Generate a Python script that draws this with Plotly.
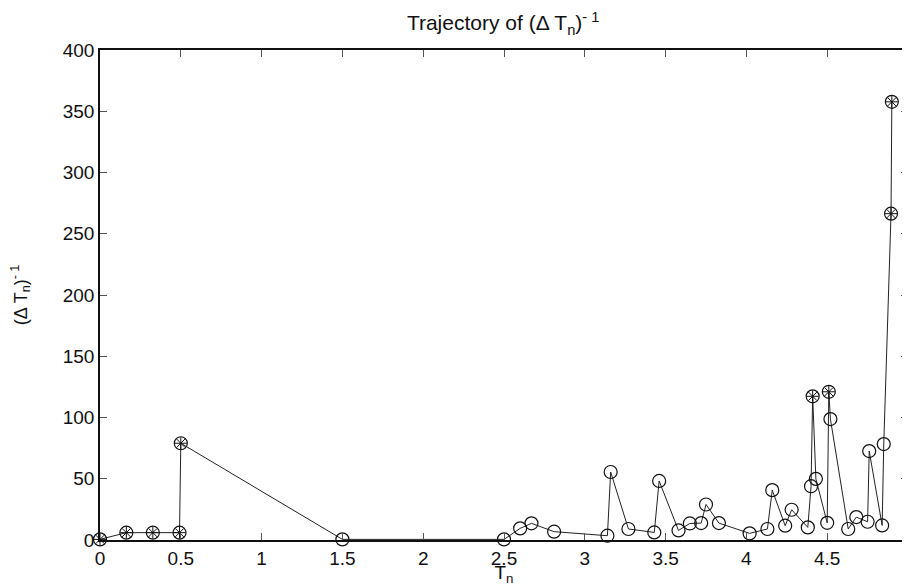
import plotly.graph_objects as go

# Trajectory points, in order
t_n = [0.0, 0.163, 0.327, 0.492, 0.50, 1.50, 2.50, 2.60, 2.67, 2.81, 3.14, 3.16,
       3.27, 3.43, 3.46, 3.58, 3.65, 3.72, 3.75, 3.83, 4.02, 4.13, 4.16, 4.24,
       4.28, 4.38, 4.40, 4.41, 4.43, 4.50, 4.51, 4.52, 4.63, 4.68, 4.75, 4.76,
       4.84, 4.85, 4.895, 4.90]
inv_dt = [0.5, 6, 6, 6, 79, 0.5, 0.5, 9.5, 13.6, 6.8, 3.5, 55.5,
          9, 6.2, 48.2, 7.8, 13.5, 13.8, 29, 13.8, 5.4, 9, 40.7, 11.7,
          24.7, 10.3, 43.9, 117.3, 49.9, 14, 121, 98.7, 9, 18.7, 14.9, 72.6,
          11.9, 78.3, 266.4, 357.7]
# points drawn with the asterisk-in-circle marker
star = [1, 1, 1, 1, 1, 0, 0, 0, 0, 0, 0, 0,
        0, 0, 0, 0, 0, 0, 0, 0, 0, 0, 0, 0,
        0, 0, 0, 1, 0, 0, 1, 0, 0, 0, 0, 0,
        0, 0, 1, 1]

x_ticks = [0, 0.5, 1, 1.5, 2, 2.5, 3, 3.5, 4, 4.5, 5]
x_labels = ["0", "0.5", "1", "1.5", "2", "2.5", "3", "3.5", "4", "4.5", "5"]
y_ticks = [0, 50, 100, 150, 200, 250, 300, 350, 400]

sx = [x for x, s in zip(t_n, star) if s]
sy = [y for y, s in zip(inv_dt, star) if s]

font = "Liberation Sans, Arial, Helvetica, sans-serif"

fig = go.Figure()
fig.add_trace(go.Scatter(
    x=t_n, y=inv_dt, mode="lines+markers",
    line=dict(color="#222222", width=1),
    marker=dict(symbol="circle-open", size=13, color="#111111",
                line=dict(width=1.2, color="#111111")),
    showlegend=False, hoverinfo="x+y", cliponaxis=False))
fig.add_trace(go.Scatter(
    x=sx, y=sy, mode="markers",
    marker=dict(symbol="asterisk-open", size=10, color="#111111",
                line=dict(width=1, color="#111111")),
    showlegend=False, hoverinfo="skip", cliponaxis=False))

fig.update_layout(
    width=902, height=578,
    margin=dict(l=92, r=2, t=42, b=46),
    paper_bgcolor="white", plot_bgcolor="white",
    font=dict(family=font, size=19, color="#111111"),
    title=dict(text="Trajectory of (Δ T<sub>n</sub>)<sup>- 1</sup>",
               x=0.549, xanchor="center", y=0.974, yanchor="middle",
               yref="container", font=dict(size=21, family=font)),
)
fig.update_xaxes(
    range=[0, 5], tickvals=x_ticks, ticktext=x_labels,
    showline=True, linecolor="#111111", linewidth=1.5, mirror="ticks",
    ticks="inside", ticklen=7, tickcolor="#555555", tickwidth=1,
    showgrid=False, zeroline=False, automargin=False,
    ticklabeloverflow="allow",
    tickfont=dict(size=19, family=font),
    title=dict(text="T<sub>n</sub>", standoff=2, font=dict(size=19, family=font)),
)
fig.update_yaxes(
    range=[0, 400], tickvals=y_ticks,
    showline=True, linecolor="#111111", linewidth=1.5, mirror="ticks",
    ticks="inside", ticklen=7, tickcolor="#555555", tickwidth=1,
    showgrid=False, zeroline=False, automargin=False,
    ticklabeloverflow="allow",
    tickfont=dict(size=19, family=font),
    title=dict(text="(Δ T<sub>n</sub>)<sup>- 1</sup>", standoff=32,
               font=dict(size=18, family=font)),
)

fig.write_html("out.html")
